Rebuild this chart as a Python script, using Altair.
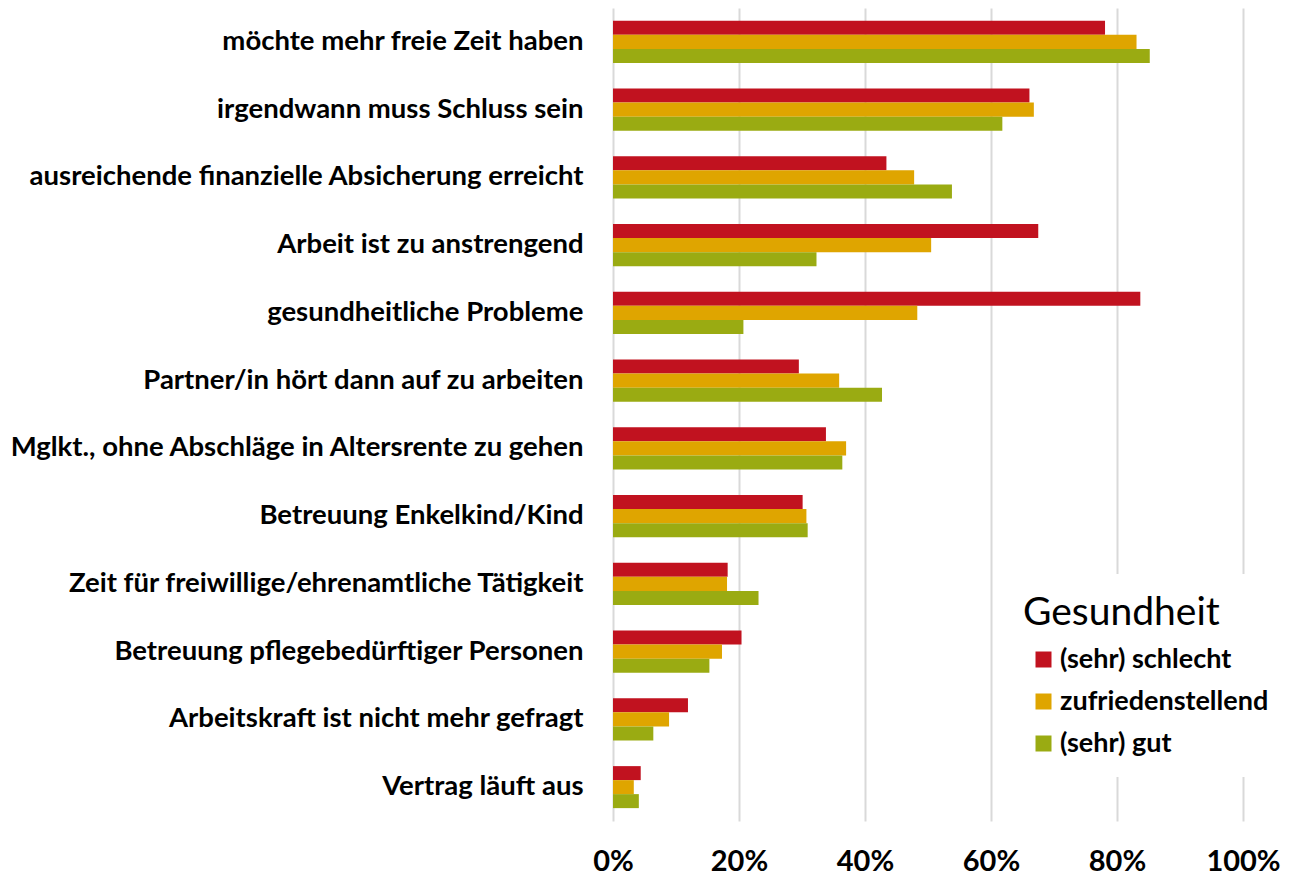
import altair as alt
import pandas as pd

categories = [
    "möchte mehr freie Zeit haben",
    "irgendwann muss Schluss sein",
    "ausreichende finanzielle Absicherung erreicht",
    "Arbeit ist zu anstrengend",
    "gesundheitliche Probleme",
    "Partner/in hört dann auf zu arbeiten",
    "Mglkt., ohne Abschläge in Altersrente zu gehen",
    "Betreuung Enkelkind/Kind",
    "Zeit für freiwillige/ehrenamtliche Tätigkeit",
    "Betreuung pflegebedürftiger Personen",
    "Arbeitskraft ist nicht mehr gefragt",
    "Vertrag läuft aus",
]
series = ["(sehr) schlecht", "zufriedenstellend", "(sehr) gut"]
schlecht = [78.1, 66.1, 43.4, 67.5, 83.7, 29.5, 33.8, 30.1, 18.2, 20.4, 11.9, 4.4]
zufrieden = [83.1, 66.8, 47.8, 50.5, 48.3, 35.9, 37.0, 30.7, 18.1, 17.3, 8.9, 3.3]
gut = [85.2, 61.8, 53.8, 32.3, 20.7, 42.7, 36.4, 30.9, 23.1, 15.3, 6.4, 4.1]
colors = ["#c1121f", "#dfa500", "#9aab12"]
x_ticks = [0, 0.2, 0.4, 0.6, 0.8, 1.0]

rows = []
for s, vals in zip(series, [schlecht, zufrieden, gut]):
    for c, v in zip(categories, vals):
        rows.append({"Grund": c, "Gesundheit": s, "Anteil": v / 100})
df = pd.DataFrame(rows)

FONT = "Lato"

chart = alt.Chart(df).mark_bar().encode(
    y=alt.Y("Grund:N", sort=categories, title=None,
            scale=alt.Scale(paddingInner=0.38, paddingOuter=0.19),
            axis=alt.Axis(labelFont=FONT, labelFontWeight="bold", labelFontSize=27.5,
                          labelColor="#000000", labelPadding=30, labelLimit=700,
                          ticks=False, domain=False, grid=False)),
    yOffset=alt.YOffset("Gesundheit:N", sort=series),
    x=alt.X("Anteil:Q", title=None,
            scale=alt.Scale(domain=[0, 1], nice=False),
            axis=alt.Axis(format=".0%", values=x_ticks, labelFont=FONT,
                          labelFontWeight="bold", labelFontSize=29, labelColor="#000000",
                          labelPadding=26, labelFlush=False, ticks=False, domain=False,
                          grid=True, gridColor="#d9d9d9", gridWidth=2)),
    color=alt.Color("Gesundheit:N", sort=series,
                    scale=alt.Scale(domain=series, range=colors),
                    legend=alt.Legend(orient="none", legendX=390, legendY=566,
                                      title="Gesundheit", titleFont=FONT,
                                      titleFontWeight="normal", titleFontSize=39,
                                      titleColor="#000000", titlePadding=13,
                                      titleLimit=500,
                                      labelFont=FONT, labelFontWeight="bold",
                                      labelFontSize=27, labelColor="#000000",
                                      labelOffset=3,
                                      symbolType="square", symbolSize=256,
                                      symbolStrokeWidth=0, symbolOffset=7,
                                      rowPadding=14, padding=20,
                                      fillColor="#ffffff", labelLimit=400)),
).properties(
    width=630, height=813,
    autosize=alt.AutoSizeParams(type="none"),
    padding={"left": 605, "top": 0, "right": 40, "bottom": 60},
).configure_view(stroke=None)

chart.save("out.html", embed_options={"renderer": "svg", "actions": False})
